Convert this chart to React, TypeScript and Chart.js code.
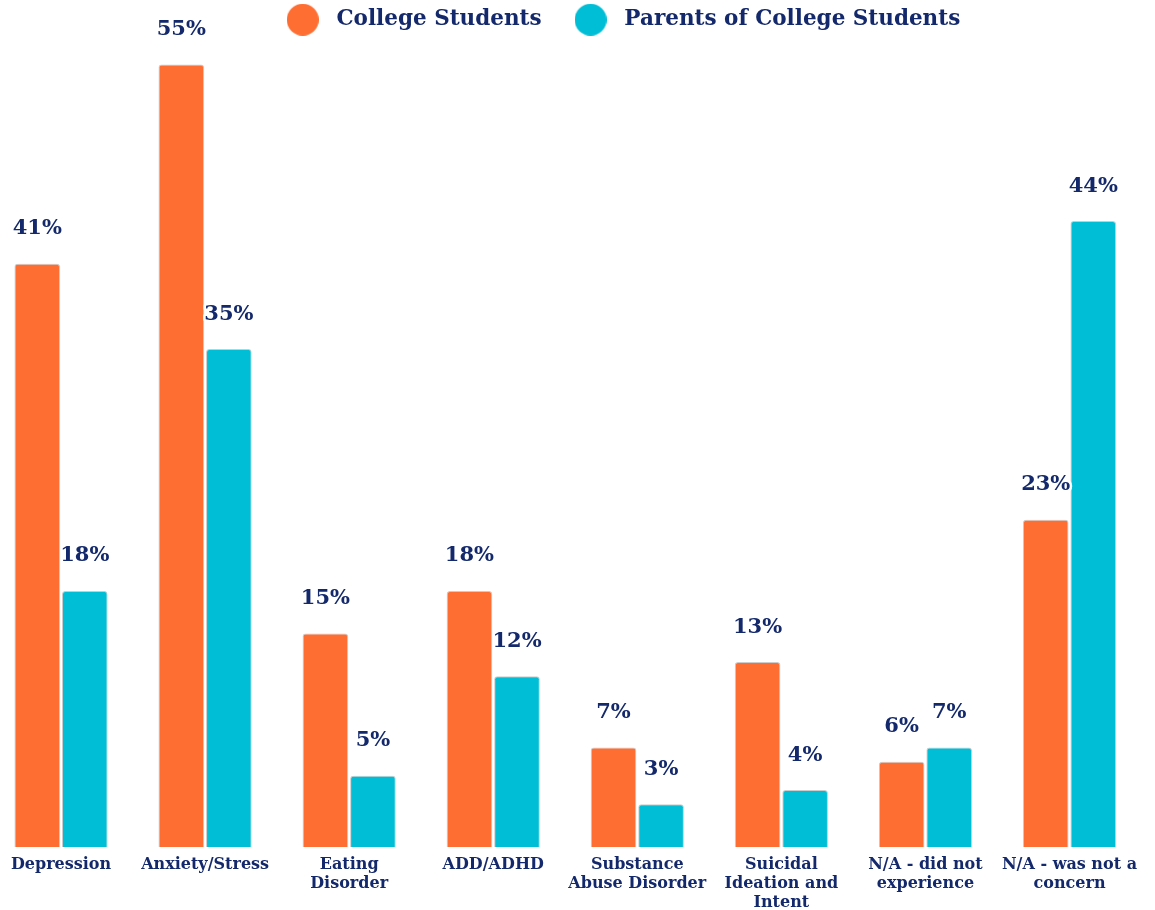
import React, { useEffect, useRef } from "react";
import { Chart, registerables } from "chart.js";

Chart.register(...registerables);

const categories: (string | string[])[] = [
  "Depression",
  "Anxiety/Stress",
  ["Eating", "Disorder"],
  "ADD/ADHD",
  ["Substance", "Abuse Disorder"],
  ["Suicidal", "Ideation and", "Intent"],
  ["N/A - did not", "experience"],
  ["N/A - was not a", "concern"],
];
const seriesNames = ["College Students", "Parents of College Students"];
const collegeStudents = [41, 55, 15, 18, 7, 13, 6, 23];
const parentsOfStudents = [18, 35, 5, 12, 3, 4, 7, 44];

const ORANGE = "#FE6D31";
const CYAN = "#00BED5";
const NAVY = "#14296B";
const FONT = "'DejaVu Serif', serif";

function circleImage(color: string, size: number) {
  const c = document.createElement("canvas");
  c.width = size;
  c.height = size;
  const ctx = c.getContext("2d")!;
  ctx.fillStyle = color;
  ctx.beginPath();
  ctx.arc(size / 2, size / 2, size / 2, 0, Math.PI * 2);
  ctx.fill();
  return c;
}

const valueLabels = {
  id: "valueLabels",
  afterDatasetsDraw(chart: any) {
    const ctx = chart.ctx;
    ctx.save();
    ctx.font = `bold 21px ${FONT}`;
    ctx.textAlign = "center";
    ctx.textBaseline = "middle";
    ctx.lineJoin = "round";
    chart.data.datasets.forEach((ds: any, di: number) => {
      const meta = chart.getDatasetMeta(di);
      meta.data.forEach((bar: any, i: number) => {
        const text = `${ds.data[i]}%`;
        const y = bar.y - 35;
        ctx.lineWidth = 5;
        ctx.strokeStyle = "#ffffff";
        ctx.strokeText(text, bar.x, y);
        ctx.fillStyle = NAVY;
        ctx.fillText(text, bar.x, y);
      });
    });
    ctx.restore();
  },
};

const legendShift = {
  id: "legendShift",
  afterLayout(chart: any) {
    const lg = chart.legend;
    if (lg) {
      lg.left += 53;
      lg.right += 53;
      lg.top -= 17;
      lg.bottom -= 17;
    }
  },
};

export default function App() {
  const ref = useRef<HTMLCanvasElement>(null);
  useEffect(() => {
    document.body.style.overflow = "hidden";
    const imgs = [circleImage(ORANGE, 32), circleImage(CYAN, 32)];
    const barStyle = {
      borderColor: "rgba(170,170,170,0.6)",
      borderWidth: 1,
      borderRadius: 3,
      borderSkipped: "bottom" as const,
      categoryPercentage: 0.66,
      barPercentage: 0.96,
    };
    const chart = new Chart(ref.current!, {
      type: "bar",
      data: {
        labels: categories as any,
        datasets: [
          { label: seriesNames[0], data: collegeStudents, backgroundColor: ORANGE, ...barStyle },
          { label: seriesNames[1], data: parentsOfStudents, backgroundColor: CYAN, ...barStyle },
        ],
      },
      options: {
        animation: false,
        responsive: false,
        layout: { padding: 0 },
        scales: {
          x: {
            grid: { display: false, drawTicks: false },
            border: { display: false },
            afterFit: (scale: any) => {
              scale.height = 63;
            },
            ticks: {
              autoSkip: false,
              maxRotation: 0,
              padding: 8,
              color: NAVY,
              font: { family: FONT, size: 16, weight: "bold", lineHeight: 1.2 },
            },
          },
          y: { display: false, min: 0, max: 55.5 },
        },
        plugins: {
          tooltip: { enabled: false },
          legend: {
            position: "top",
            labels: {
              usePointStyle: true,
              pointStyleWidth: 46,
              padding: 26,
              color: NAVY,
              font: { family: FONT, size: 21.5, weight: "bold" },
              generateLabels: (c: any) => {
                const items = Chart.defaults.plugins.legend.labels.generateLabels(c);
                return items.map((it: any) => ({ ...it, pointStyle: imgs[it.datasetIndex] }));
              },
            },
          },
        },
      },
      plugins: [valueLabels, legendShift],
    });
    return () => chart.destroy();
  }, []);
  return (
    <canvas
      ref={ref}
      width={1156}
      height={910}
      style={{ position: "absolute", left: -11, top: 0, width: 1156, height: 910 }}
    />
  );
}
